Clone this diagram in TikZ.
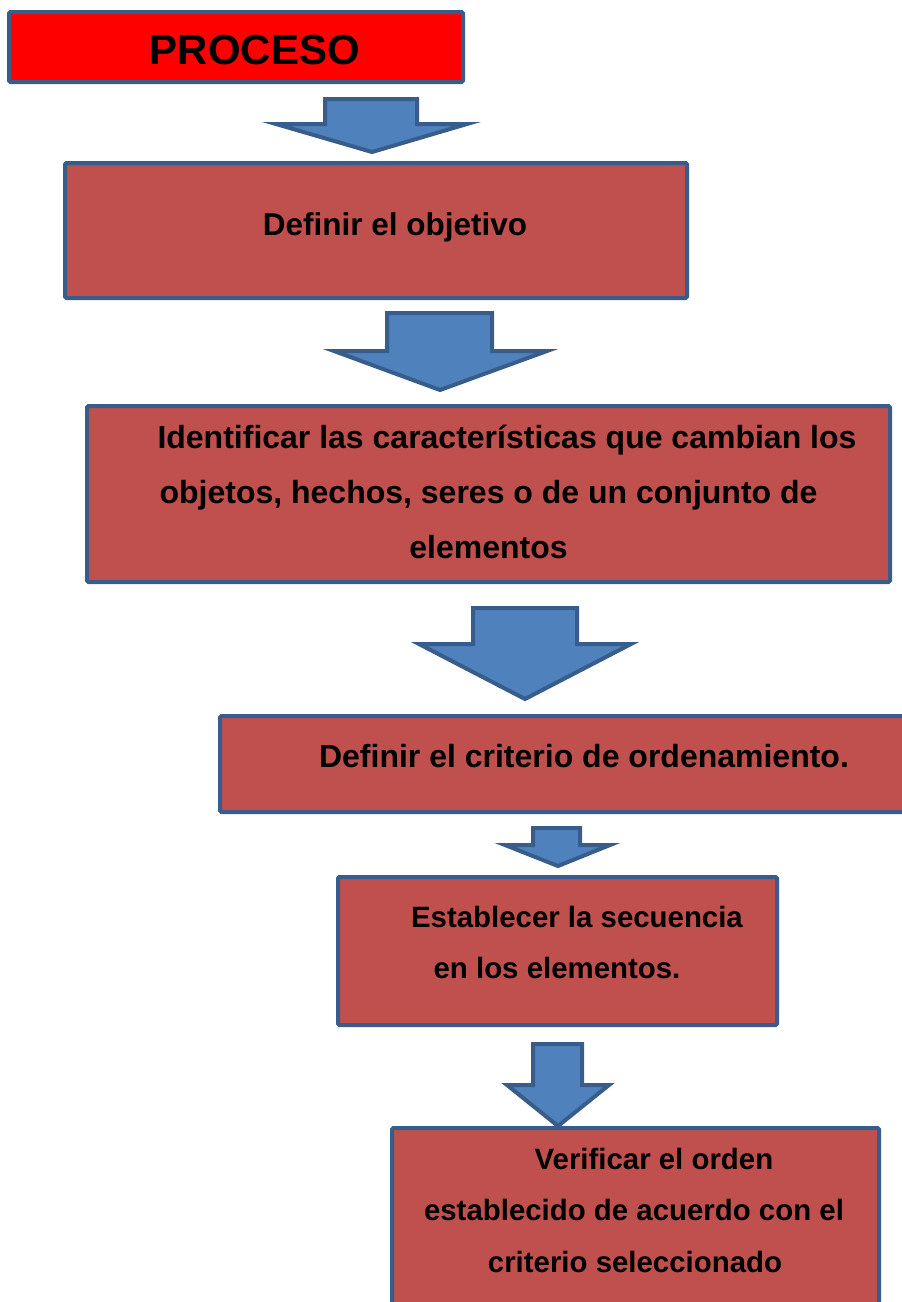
\documentclass[tikz,border=0pt]{standalone}
\usepackage{fontspec}
\setmainfont{Liberation Sans}
\definecolor{boxred}{HTML}{C0504D}
\definecolor{edgeblue}{HTML}{385D8A}
\definecolor{arrowblue}{HTML}{4F81BD}
\definecolor{purered}{HTML}{FF0000}
\begin{document}
\begin{tikzpicture}[x=1pt,y=-1pt,
  stepbox/.style={draw=edgeblue,line width=4pt,fill=boxred,rounded corners=1.5pt},
  titlebox/.style={draw=edgeblue,line width=4pt,fill=purered,rounded corners=1.5pt},
  blockarrow/.style={draw=edgeblue,line width=4pt,fill=arrowblue,line join=miter},
  txt/.style={anchor=base,inner sep=0pt,font=\fontsize{31.5}{38}\selectfont\bfseries},
  txtbig/.style={anchor=base,inner sep=0pt,font=\fontsize{32}{38}\selectfont\bfseries},
  txtsmall/.style={anchor=base,inner sep=0pt,font=\fontsize{29.4}{36}\selectfont\bfseries},
  ttl/.style={anchor=base,inner sep=0pt,font=\fontsize{42}{50}\selectfont\bfseries}]
\useasboundingbox (0,0) rectangle (902,1302);
\clip (0,0) rectangle (902,1302);
% boxes
\path[titlebox] (9,12) rectangle (463,82);
\node[ttl] (t1) at (255,64) {PROCESO};
\path[stepbox] (65,163) rectangle (687,298);
\node[txt] (t2) at (395,235) {Definir el objetivo};
\path[stepbox] (87,406) rectangle (890,582);
\node[txtbig] (t3a) at (507,448) {Identificar las características que cambian los};
\node[txtbig] (t3b) at (488.5,503) {objetos, hechos, seres o de un conjunto de};
\node[txtbig] (t3c) at (488.5,558) {elementos};
\path[stepbox] (220,716) rectangle (930,812);
\node[txtbig] (t4) at (584,767) {Definir el criterio de ordenamiento.};
\path[stepbox] (338,877) rectangle (777,1025);
\node[txtsmall] (t5a) at (577,927) {Establecer la secuencia};
\node[txtsmall] (t5b) at (557,978) {en los elementos.};
\path[stepbox] (392,1128) rectangle (879,1340);
\node[txtsmall] (t6a) at (654,1169) {Verificar el orden};
\node[txtsmall] (t6b) at (634,1220) {establecido de acuerdo con el};
\node[txtsmall] (t6c) at (635,1272) {criterio seleccionado};
% block arrows
\path[blockarrow] (325,99) -- (417,99) -- (417,124) -- (467,124) -- (372,152) -- (276,124) -- (325,124) -- cycle;
\path[blockarrow] (387,313) -- (492,313) -- (492,351) -- (547,351) -- (440,390) -- (334,351) -- (387,351) -- cycle;
\path[blockarrow] (473,608) -- (577,608) -- (577,644) -- (631,644) -- (525,699) -- (419,644) -- (473,644) -- cycle;
\path[blockarrow] (533,828) -- (580,828) -- (580,845) -- (610,845) -- (558,866) -- (505,845) -- (533,845) -- cycle;
\path[blockarrow] (533,1044) -- (582,1044) -- (582,1085) -- (609,1085) -- (558,1126) -- (507,1085) -- (533,1085) -- cycle;
\end{tikzpicture}
\end{document}
